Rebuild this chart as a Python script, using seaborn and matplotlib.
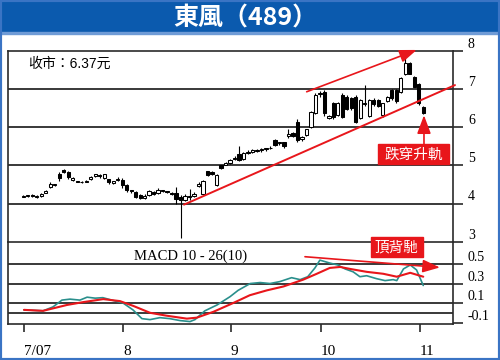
import numpy as np
import pandas as pd
import matplotlib
matplotlib.use('Agg')
import matplotlib.pyplot as plt
import seaborn as sns
from matplotlib.patches import Rectangle

sns.set_theme(style='white')
plt.rcParams['font.family'] = ['Liberation Serif', 'Noto Sans CJK TC']

# ---------------- data ----------------
title = '東風（489）'
close_label = '收市：6.37元'
month_labels = ['7/07', '8', '9', '10', '11']
month_pos = [0.16, 22.25, 46.15, 66.18, 88.27]   # trading-day index of month start

opens = [4.18, 4.19, 4.22, 4.17, 4.19, 4.28, 4.42, 4.48, 4.78, 4.88,
         4.82, 4.62, 4.58, 4.57, 4.56, 4.63, 4.72, 4.74, 4.66, 4.64,
         4.53, 4.62, 4.62, 4.48, 4.34, 4.30, 4.22, 4.14, 4.22, 4.30,
         4.28, 4.34, 4.32, 4.28, 4.28, 4.18, 4.08, 4.18, 4.20, 4.46,
         4.26, 4.84, 4.82, 4.48, 5.00, 5.02, 5.05, 5.16, 5.30, 5.16,
         5.33, 5.36, 5.38, 5.40, 5.42, 5.44, 5.66, 5.58, 5.60, 5.76,
         5.84, 6.14, 5.68, 5.79, 6.00, 6.36, 6.86, 6.92, 6.23, 6.63,
         6.31, 6.84, 6.80, 6.76, 6.80, 6.23, 6.60, 6.28, 6.71, 6.71,
         6.31, 6.69, 6.97, 6.97, 6.93, 7.38, 7.67, 7.32, 7.14, 6.52]
highs = [4.22, 4.23, 4.24, 4.21, 4.27, 4.36, 4.56, 4.52, 4.82, 4.90,
         4.85, 4.70, 4.60, 4.59, 4.62, 4.72, 4.78, 4.76, 4.78, 4.65,
         4.60, 4.70, 4.66, 4.50, 4.36, 4.32, 4.25, 4.24, 4.36, 4.34,
         4.40, 4.36, 4.34, 4.30, 4.42, 4.22, 4.24, 4.38, 4.30, 4.56,
         4.62, 4.86, 4.84, 4.76, 5.02, 5.08, 5.16, 5.24, 5.50, 5.36,
         5.40, 5.42, 5.42, 5.45, 5.46, 5.50, 5.70, 5.62, 5.62, 5.96,
         5.86, 6.20, 5.78, 5.96, 6.42, 6.88, 6.94, 6.96, 6.32, 6.66,
         6.66, 6.88, 6.84, 6.80, 6.84, 6.74, 7.10, 6.74, 6.76, 6.74,
         6.64, 6.82, 7.00, 7.00, 7.30, 7.93, 7.70, 7.34, 7.16, 6.54]
lows = [4.17, 4.18, 4.18, 4.15, 4.18, 4.27, 4.40, 4.46, 4.60, 4.80,
        4.64, 4.60, 4.55, 4.53, 4.55, 4.62, 4.70, 4.68, 4.64, 4.50,
        4.51, 4.60, 4.40, 4.30, 4.28, 4.15, 4.12, 4.12, 4.20, 4.22,
        4.26, 4.30, 4.28, 4.22, 4.00, 3.10, 4.06, 4.10, 4.18, 4.44,
        4.24, 4.72, 4.74, 4.46, 4.90, 5.00, 5.03, 5.14, 5.10, 5.14,
        5.30, 5.32, 5.34, 5.36, 5.38, 5.42, 5.50, 5.54, 5.46, 5.72,
        5.74, 5.60, 5.64, 5.76, 5.98, 6.34, 6.80, 6.30, 6.20, 6.22,
        6.28, 6.24, 6.44, 6.46, 6.12, 6.20, 6.56, 6.26, 6.56, 6.52,
        6.26, 6.66, 6.72, 6.64, 6.90, 7.36, 7.38, 7.04, 6.58, 6.35]
closes = [4.19, 4.21, 4.19, 4.19, 4.26, 4.34, 4.50, 4.49, 4.67, 4.83,
          4.70, 4.66, 4.56, 4.55, 4.60, 4.70, 4.76, 4.72, 4.76, 4.55,
          4.58, 4.64, 4.48, 4.36, 4.32, 4.18, 4.15, 4.20, 4.32, 4.26,
          4.36, 4.33, 4.30, 4.24, 4.12, 4.08, 4.20, 4.16, 4.26, 4.52,
          4.60, 4.74, 4.78, 4.74, 4.92, 5.06, 5.13, 5.20, 5.14, 5.33,
          5.35, 5.40, 5.40, 5.41, 5.44, 5.46, 5.53, 5.60, 5.50, 5.83,
          5.76, 5.66, 5.74, 5.94, 6.40, 6.84, 6.90, 6.37, 6.28, 6.26,
          6.62, 6.27, 6.47, 6.49, 6.14, 6.71, 6.63, 6.71, 6.60, 6.55,
          6.62, 6.80, 6.75, 6.68, 7.28, 7.67, 7.40, 7.06, 6.62, 6.37]

macd_day = [0.16, 4.4, 6.6, 8.6, 10.4, 12.6, 14.2, 16.0, 17.7, 19.7,
            22.2, 24.4, 26.4, 28.2, 30.4, 32.6, 34.9, 37.1, 38.2, 40.4,
            43.1, 46.0, 47.8, 50.5, 52.7, 54.9, 57.1, 59.7, 61.6, 63.3,
            64.9, 66.0, 68.2, 70.0, 71.6, 73.4, 74.9, 76.4, 78.6, 80.5,
            82.3, 83.1, 84.6, 86.1, 87.5, 89.0]
macd_val = [0.03, 0.02, 0.06, 0.13, 0.14, 0.13, 0.16, 0.15, 0.155, 0.13,
            0.10, 0.03, -0.06, -0.07, -0.05, -0.06, -0.08, -0.09, -0.07, 0.02,
            0.08, 0.165, 0.23, 0.30, 0.31, 0.30, 0.32, 0.36, 0.34, 0.37,
            0.46, 0.54, 0.51, 0.49, 0.45, 0.42, 0.37, 0.38, 0.35, 0.33,
            0.34, 0.33, 0.45, 0.49, 0.44, 0.28]
signal_day = [0.16, 4.4, 9.7, 13.4, 17.8, 21.5, 24.5, 28.2, 31.9, 36.4,
              38.6, 42.3, 46.7, 50.4, 54.2, 57.9, 62.3, 65.3, 68.2, 70.5,
              72.7, 76.4, 80.1, 83.1, 86.1, 89.0]
signal_val = [0.03, 0.02, 0.08, 0.11, 0.14, 0.12, 0.07, 0.00, -0.03, -0.06,
              -0.05, 0.01, 0.10, 0.18, 0.23, 0.27, 0.34, 0.40, 0.46, 0.47,
              0.45, 0.42, 0.40, 0.37, 0.41, 0.37]

price_ticks = [3, 4, 5, 6, 7, 8]
macd_ticks = [0.5, 0.3, 0.1, -0.1]
macd_grid = [0.5, 0.3, 0.1, 0.0]

# ---------------- figure ----------------
W, H = 500, 360
fig = plt.figure(figsize=(5, 3.6), dpi=100)
fig.patch.set_facecolor('white')

BLUE = '#0b5aae'
RED = '#e8161b'
TEAL = '#2a8f8c'
DARK = '#2a2a2a'

def fx(px):
    return px / W

def fy(py):
    return 1 - py / H

L, R = 8, 452.7
T1, B1, B2 = 50.7, 241.7, 324
ax1 = fig.add_axes([fx(L), fy(B1), fx(R - L), (B1 - T1) / H])
ax2 = fig.add_axes([fx(L), fy(B2), fx(R - L), (B2 - B1) / H], sharex=ax1)
ax2.patch.set_visible(False)

n = len(closes)
days = np.arange(n)
xlim = (-3.4, 95.55)

# --- candles ---
for g in [4, 5, 6, 7]:
    ax1.axhline(g, color=DARK, lw=1.3, zorder=1)
ax1.vlines(days, lows, highs, color='black', lw=0.8, zorder=3)
for d, o, c in zip(days, opens, closes):
    up = c >= o
    bottom = min(o, c)
    h = max(abs(c - o), 0.025)
    ax1.bar(d, h, bottom=bottom, width=0.72,
            color='white' if up else 'black', edgecolor='black',
            linewidth=0.75, zorder=4)

ax1.set_xlim(*xlim)
ax1.set_ylim(3, 8)

# --- MACD ---
for g in macd_grid:
    ax2.axhline(g, color=DARK, lw=1.3, zorder=1)
sns.lineplot(x=macd_day, y=macd_val, ax=ax2, color=TEAL, lw=1.2, zorder=3)
sns.lineplot(x=signal_day, y=signal_val, ax=ax2, color=RED, lw=1.5, zorder=3)
ax2.set_ylim(-0.115, 0.729)
ax2.set_xlim(*xlim)

# --- spines & ticks ---
for ax in (ax1, ax2):
    for s in ax.spines.values():
        s.set_color(DARK)
        s.set_linewidth(1.2)
    ax.yaxis.tick_right()
    ax.set_xlabel('')
    ax.set_ylabel('')
ax1.spines['bottom'].set_visible(False)

ax1.set_yticks(price_ticks)
ax1.set_yticklabels([str(t) for t in price_ticks])
ax1.tick_params(axis='y', right=True, left=False, direction='out', length=7,
                width=1.2, color=DARK, pad=4, labelsize=10, labelcolor='black')
ax1.tick_params(axis='x', bottom=False, labelbottom=False)
for lab in ax1.get_yticklabels():
    lab.set_va('bottom')

ax2.set_yticks(macd_ticks)
ax2.set_yticklabels(['0.5', '0.3', '0.1', '-0.1'])
ax2.tick_params(axis='y', right=True, left=False, direction='out', length=7,
                width=1.2, color=DARK, pad=4, labelsize=10, labelcolor='black')
for lab in ax2.get_yticklabels():
    lab.set_va('bottom')

ax2.set_xticks(month_pos)
ax2.set_xticklabels(month_labels, ha='left')
ax2.tick_params(axis='x', bottom=True, direction='out', length=6, width=1.2,
                color=DARK, pad=9, labelsize=11, labelcolor='black')

# --- annotations ---
ax1.text(1.0, 7.66, close_label, fontsize=10, family=['Liberation Sans', 'Noto Sans CJK TC'],
         ha='left', va='center', color='black')

ax1.plot([35.76, 96.06], [3.97, 7.10], color=RED, lw=1.4, clip_on=False, zorder=5)
ax1.annotate('', xy=(87.54, 8.02), xytext=(63.06, 6.925), annotation_clip=False,
             arrowprops=dict(arrowstyle='-|>,head_length=0.8,head_width=0.3', color=RED,
                             lw=1.2, mutation_scale=13, shrinkA=0, shrinkB=0), zorder=6)
ax1.annotate('', xy=(89.16, 6.31), xytext=(89.16, 5.554), annotation_clip=False,
             arrowprops=dict(arrowstyle='-|>,head_length=0.8,head_width=0.3', color=RED,
                             lw=1.2, mutation_scale=14, shrinkA=0, shrinkB=0), zorder=6)
ax1.add_patch(Rectangle((78.86, 5.03), 94.79 - 78.86, 5.554 - 5.03, color=RED,
                        zorder=6, clip_on=False))
ax1.text(86.83, 5.29, '跌穿升軌', family=['Noto Sans CJK TC'], fontsize=10.5,
         color='white', ha='center', va='center', zorder=7)

ax2.text(37.3, 0.58, 'MACD 10 - 26(10)', fontsize=10.5, ha='center', va='center',
         color='black', zorder=5)
ax2.annotate('', xy=(92.7, 0.465), xytext=(62.68, 0.575), annotation_clip=False,
             arrowprops=dict(arrowstyle='-|>,head_length=0.8,head_width=0.3', color=RED,
                             lw=1.2, mutation_scale=13, shrinkA=0, shrinkB=0), zorder=6)
ax2.add_patch(Rectangle((77.3, 0.569), 88.87 - 77.3, 0.774 - 0.569, color=RED,
                        zorder=6, clip_on=False))
ax2.text(83.1, 0.671, '頂背馳', family=['Noto Sans CJK TC'], fontsize=10.5,
         color='white', ha='center', va='center', zorder=7, clip_on=False)

# --- title bar & frame ---
fig.add_artist(Rectangle((0, fy(32)), 1, 32 / H, transform=fig.transFigure,
                         color=BLUE, zorder=0))
fig.add_artist(Rectangle((0, fy(33.5)), 1, 1.5 / H, transform=fig.transFigure,
                         color='#6f9bd6', zorder=0))
fig.text(fx(245), fy(18), title, family=['Noto Sans CJK TC'], fontsize=18,
         fontweight='heavy', color='white', ha='center', va='center')
fig.add_artist(Rectangle((0, 0), 1, 1, transform=fig.transFigure, fill=False,
                         ec='#3a74c4', lw=3, zorder=10))

fig.savefig('out.png', dpi=100)
